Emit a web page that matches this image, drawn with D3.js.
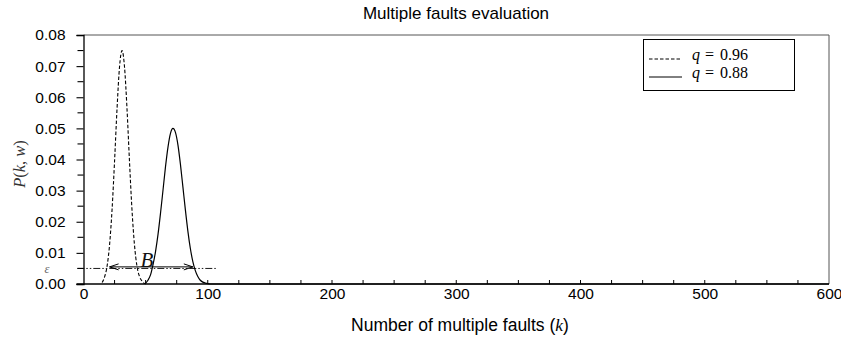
<!DOCTYPE html>
<html>
<head>
<meta charset="utf-8">
<script src="https://cdn.jsdelivr.net/npm/d3@7"></script>
<style>
  html, body { margin: 0; padding: 0; background: #fff; }
  svg { display: block; }
  .sans { font-family: "Liberation Sans", Arial, Helvetica, sans-serif; }
  .serif { font-family: "Liberation Serif", "DejaVu Serif", serif; }
</style>
</head>
<body>
<svg id="chart" width="841" height="341"></svg>
<script>
// ---- data ----
const title = "Multiple faults evaluation";
const xLabel = "Number of multiple faults ";
const xTickValues = [0, 100, 200, 300, 400, 500, 600];
const yTickValues = [0, 0.01, 0.02, 0.03, 0.04, 0.05, 0.06, 0.07, 0.08];
const seriesNames = ["0.96", "0.88"];

// q = 0.96 (dashed)
const kDashed = [15, 17, 19, 21, 23, 25, 27, 29, 31, 33, 35, 37, 39, 41, 43, 45, 47, 49, 50];
const pDashed = [0.0005, 0.0023, 0.0058, 0.0127, 0.0240, 0.0395, 0.0564, 0.0698, 0.0750, 0.0698, 0.0564, 0.0395, 0.0240, 0.0127, 0.0058, 0.0025, 0.0010, 0.0002, 0.0000];

// q = 0.88 (solid)
const kSolid = [50, 52, 54, 56, 58, 60, 62, 64, 66, 68, 70, 72, 74, 76, 78, 80, 82, 84, 86, 88, 90, 92, 94, 96, 98, 100, 102, 600];
const pSolid = [0.0003, 0.0013, 0.0030, 0.0063, 0.0105, 0.0160, 0.0228, 0.0302, 0.0377, 0.0440, 0.0484, 0.0500, 0.0487, 0.0447, 0.0385, 0.0312, 0.0238, 0.0170, 0.0114, 0.0072, 0.0043, 0.0024, 0.0012, 0.0006, 0.0003, 0.0001, 0.0000, 0.0000];

const epsilon = 0.005;
const epsRange = [-5, 108];
const bArrow = [21, 88];
const bLevel = 0.0055;

// ---- drawing ----
const svg = d3.select("#chart");
const x = d3.scaleLinear().domain([0, 600]).range([83.5, 829]);
const y = d3.scaleLinear().domain([0, 0.08]).range([284, 35]);
const tickFont = 15.5;

// title
svg.append("text").attr("class", "sans")
  .attr("x", 456).attr("y", 19)
  .attr("text-anchor", "middle").attr("font-size", 17)
  .text(title);

// frame (top/right)
svg.append("path")
  .attr("d", `M${x(0)},${y(0.08)}H${x(600)}V${y(0)}`)
  .attr("fill", "none").attr("stroke", "#555").attr("stroke-width", 1);

// y axis
const yAxis = d3.axisLeft(y)
  .tickValues(yTickValues)
  .tickFormat(d3.format(".2f"))
  .tickSize(7).tickPadding(11);
const gy = svg.append("g").attr("transform", `translate(${x(0)},0)`).call(yAxis);
gy.select(".domain").attr("stroke", "#000").attr("stroke-width", 1.3);
gy.selectAll(".tick line").attr("stroke", "#000").attr("stroke-width", 1.1);
gy.selectAll("text").attr("font-size", tickFont).attr("fill", "#000")
  .attr("font-family", "Liberation Sans, Arial, sans-serif");
// minor y ticks
const yMinor = d3.range(0.005, 0.08, 0.01);
svg.append("g").selectAll("line").data(yMinor).join("line")
  .attr("x1", x(0) - 6).attr("x2", x(0))
  .attr("y1", d => y(d)).attr("y2", d => y(d))
  .attr("stroke", "#000").attr("stroke-width", 1.1);

// x axis
const xAxis = d3.axisBottom(x)
  .tickValues(xTickValues)
  .tickSize(0).tickPadding(4);
const gx = svg.append("g").attr("transform", `translate(0,${y(0)})`).call(xAxis);
gx.select(".domain").remove();
gx.selectAll("text").attr("font-size", tickFont).attr("fill", "#000")
  .attr("font-family", "Liberation Sans, Arial, sans-serif");
svg.append("line")
  .attr("x1", x(0) - 7).attr("x2", x(600))
  .attr("y1", y(0)).attr("y2", y(0))
  .attr("stroke", "#000").attr("stroke-width", 1.3);
// x ticks every 25 pointing inward
svg.append("g").selectAll("line").data(d3.range(25, 600, 25)).join("line")
  .attr("x1", d => x(d)).attr("x2", d => x(d))
  .attr("y1", y(0)).attr("y2", y(0) - 4)
  .attr("stroke", "#000").attr("stroke-width", 1);

// x label
const xl = svg.append("text").attr("class", "sans")
  .attr("x", 460).attr("y", 331)
  .attr("text-anchor", "middle").attr("font-size", 17.5);
xl.append("tspan").text(xLabel + "(");
xl.append("tspan").attr("font-family", "Liberation Serif, serif").attr("font-style", "italic").text("k");
xl.append("tspan").text(")");

// y label
const yl = svg.append("text").attr("class", "serif")
  .attr("transform", "translate(25,164) rotate(-90)")
  .attr("text-anchor", "middle").attr("font-size", 16.5).attr("fill", "#333");
yl.append("tspan").attr("font-style", "italic").text("P");
yl.append("tspan").text("(");
yl.append("tspan").attr("font-style", "italic").text("k");
yl.append("tspan").text(", ");
yl.append("tspan").attr("font-style", "italic").text("w");
yl.append("tspan").text(")");

// epsilon line
svg.append("line")
  .attr("x1", x(epsRange[0])).attr("x2", x(epsRange[1]))
  .attr("y1", y(epsilon)).attr("y2", y(epsilon))
  .attr("stroke", "#000").attr("stroke-width", 0.9)
  .attr("stroke-dasharray", "7,2,1.5,2,1.5,2");
svg.append("text").attr("class", "serif")
  .attr("x", 47).attr("y", 272.5)
  .attr("text-anchor", "middle").attr("font-size", 12.5).attr("font-style", "italic")
  .attr("fill", "#666").text("ε");

// curves
const line = d3.line().x(d => x(d[0])).y(d => y(d[1])).curve(d3.curveMonotoneX);
svg.append("path")
  .datum(kDashed.map((k, i) => [k, pDashed[i]]))
  .attr("d", line).attr("fill", "none").attr("stroke", "#000")
  .attr("stroke-width", 1.1).attr("stroke-dasharray", "3.5,2");
svg.append("path")
  .datum(kSolid.map((k, i) => [k, pSolid[i]]))
  .attr("d", line).attr("fill", "none").attr("stroke", "#000")
  .attr("stroke-width", 1.2);

// B arrow
const ay = y(bLevel);
const ax1 = x(bArrow[0]), ax2 = x(bArrow[1]);
svg.append("line").attr("x1", ax1).attr("x2", ax2).attr("y1", ay).attr("y2", ay)
  .attr("stroke", "#000").attr("stroke-width", 1);
svg.append("path")
  .attr("d", `M${ax1 + 9},${ay - 3}L${ax1},${ay}L${ax1 + 9},${ay + 3}M${ax2 - 9},${ay - 3}L${ax2},${ay}L${ax2 - 9},${ay + 3}`)
  .attr("fill", "none").attr("stroke", "#000").attr("stroke-width", 1);
svg.append("text").attr("class", "serif")
  .attr("x", x(51)).attr("y", ay)
  .attr("text-anchor", "middle").attr("font-size", 21).attr("font-style", "italic")
  .attr("fill", "#111").text("B");

// legend
const lg = svg.append("g");
lg.append("rect").attr("x", 643.5).attr("y", 39.5).attr("width", 151).attr("height", 51)
  .attr("fill", "#fff").attr("stroke", "#000").attr("stroke-width", 1);
const legY = [59, 77];
seriesNames.forEach((name, i) => {
  lg.append("line").attr("x1", 649).attr("x2", 682).attr("y1", legY[i]).attr("y2", legY[i])
    .attr("stroke", "#000").attr("stroke-width", 1)
    .attr("stroke-dasharray", i === 0 ? "3.5,2" : null);
  lg.append("text").attr("class", "serif")
    .attr("x", 692).attr("y", legY[i] + 1).attr("font-size", 16)
    .attr("font-style", "italic").text("q");
  lg.append("text").attr("class", "serif")
    .attr("x", 705).attr("y", legY[i] + 1).attr("font-size", 16).text("=");
  lg.append("text").attr("class", "serif")
    .attr("x", 720).attr("y", legY[i] + 1).attr("font-size", 16).text(name);
});
</script>
</body>
</html>
